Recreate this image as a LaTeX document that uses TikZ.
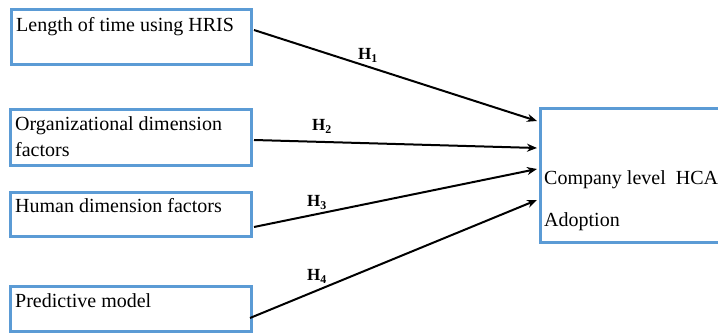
\documentclass[tikz,border=0pt]{standalone}
\usepackage{fontspec}
\setmainfont{Liberation Serif}
\usetikzlibrary{arrows.meta}
\definecolor{boxblue}{RGB}{91,155,213}
\tikzset{
  box/.style={draw=boxblue, line width=3pt, rectangle, inner sep=0pt, outer sep=0pt, anchor=north west},
  txt/.style={anchor=base west, inner sep=0pt, font=\fontsize{20}{24}\selectfont},
  hlab/.style={anchor=base west, inner sep=0pt, font=\fontsize{17}{20}\selectfont\bfseries},
  conn/.style={line width=2pt, -{Stealth[length=10pt,width=8pt]}}
}
\begin{document}
\begin{tikzpicture}[x=1pt,y=-1pt]
\useasboundingbox (0,0) rectangle (718,336);
\node[box, minimum width=240pt, minimum height=55pt] (b1) at (11,10) {};
\node[box, minimum width=241pt, minimum height=56pt] (b2) at (10,110) {};
\node[box, minimum width=241pt, minimum height=44pt] (b3) at (10,193) {};
\node[box, minimum width=241pt, minimum height=45pt] (b4) at (10,287) {};
\node[box, minimum width=190pt, minimum height=134pt] (r) at (540,109) {};
\node[txt] (t1) at (16,31.7) {Length of time using HRIS};
\node[txt] (t2a) at (15,130.7) {Organizational dimension};
\node[txt] (t2b) at (15,156.7) {factors};
\node[txt] (t3) at (15,213) {Human dimension factors};
\node[txt] (t4) at (15,308) {Predictive model};
\node[txt] (tr1) at (544,185) {Company level\ \ HCA};
\node[txt] (tr2) at (544,226.7) {Adoption};
\draw[conn] ([xshift=3pt,yshift=7.5pt]b1.east) -- ([xshift=-3pt,yshift=55pt]r.west);
\draw[conn] ([xshift=3pt,yshift=-2pt]b2.east) -- ([xshift=-3pt,yshift=28pt]r.west);
\draw[conn] ([xshift=3pt,yshift=-12pt]b3.east) -- ([xshift=-3pt,yshift=7pt]r.west);
\draw[conn] ([xshift=-1pt,yshift=-8.5pt]b4.east) -- ([xshift=-3pt,yshift=-24pt]r.west);
\node[hlab] (h1) at (358,60) {H\textsubscript{1}};
\node[hlab] (h2) at (312,131) {H\textsubscript{2}};
\node[hlab] (h3) at (307,207) {H\textsubscript{3}};
\node[hlab] (h4) at (307,281) {H\textsubscript{4}};
\end{tikzpicture}
\end{document}
